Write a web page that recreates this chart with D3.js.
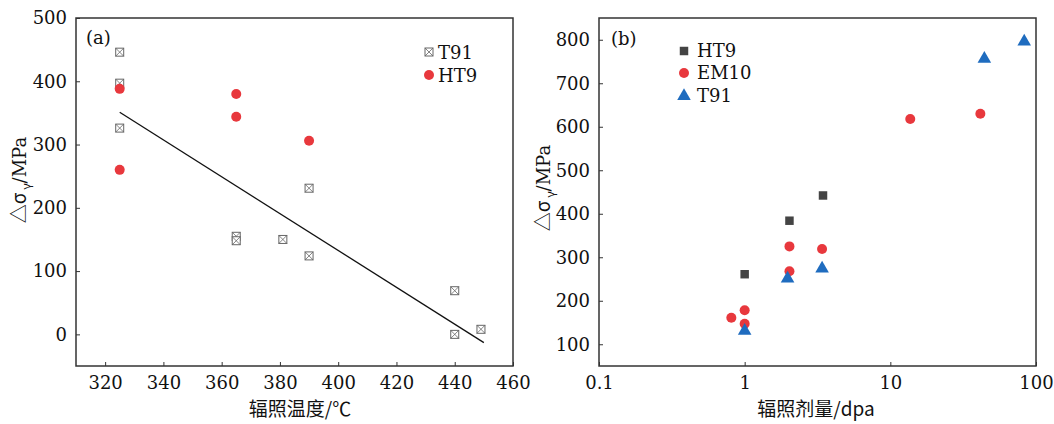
<!DOCTYPE html>
<html lang="zh">
<head>
<meta charset="UTF-8">
<title>辐照硬化</title>
<script src="https://d3js.org/d3.v7.min.js"></script>
<style>
    body { margin: 0; background: #fff; }
    svg { display: block; }
    .tick text { font-family: "DejaVu Serif", serif; font-size: 18px; fill: #111; }
    .domain, .tick line { stroke: #333; }
    .ttl { font-family: "Noto Sans CJK SC", sans-serif; font-size: 19px; fill: #111; }
    .lab { font-family: "DejaVu Serif", serif; font-size: 18px; fill: #111; }
</style>
</head>
<body>
<svg id="chart" width="1054" height="424"></svg>
<script>
// panel (a): yield strength increase vs irradiation temperature
const t91Temp = [325, 325, 325, 365, 365, 381, 390, 390, 440, 440, 449];
const t91Dsig = [446, 397, 326, 155, 148, 150, 231, 124, 69, 0, 8];
const ht9Temp = [325, 325, 365, 365, 390];
const ht9Dsig = [388, 260, 380, 344, 306];
const fitTemp = [325, 450];
const fitDsig = [351, -13];
const xTicksA = [320, 340, 360, 380, 400, 420, 440, 460];
const yTicksA = [0, 100, 200, 300, 400, 500];

// panel (b): yield strength increase vs dose
const ht9Dose = [1, 2.03, 3.45];
const ht9DsigB = [261, 384, 442];
const em10Dose = [0.81, 1, 1, 2.03, 2.03, 3.4, 13.7, 41.5];
const em10Dsig = [161, 178, 147, 325, 268, 319, 618, 630];
const t91Dose = [1, 1.97, 3.4, 44.2, 83];
const t91DsigB = [131, 251, 274, 756, 796];
const xTicksB = [0.1, 1, 10, 100];
const yTicksB = [100, 200, 300, 400, 500, 600, 700, 800];

const svg = d3.select("#chart");
const red = "#e8383d", gray = "#444", blue = "#1f6cbf";

function frame(g, x0, x1, y0, y1) {
    g.append("rect").attr("x", x0).attr("y", y0)
        .attr("width", x1 - x0).attr("height", y1 - y0)
        .attr("fill", "none").attr("stroke", "#333").attr("stroke-width", 1.5);
}

function crossSq(g, x, y) {
    const s = 4;
    g.append("rect").attr("x", x - s).attr("y", y - s).attr("width", 2 * s).attr("height", 2 * s)
        .attr("fill", "#fff").attr("stroke", "#666").attr("stroke-width", 1);
    g.append("path").attr("d", `M${x - s},${y - s}L${x + s},${y + s}M${x + s},${y - s}L${x - s},${y + s}`)
        .attr("stroke", "#666").attr("stroke-width", 0.8);
}

function yTitle(x, y) {
    const t = svg.append("text").attr("class", "ttl")
        .attr("transform", `translate(${x},${y}) rotate(-90)`)
        .attr("text-anchor", "middle");
    t.append("tspan").text("△σ");
    t.append("tspan").attr("font-size", 12).attr("dy", 5).text(" γ");
    t.append("tspan").attr("dy", -5).style("font-family", "'DejaVu Serif', serif").style("font-size", "18px").text("/MPa");
}

// ---------- panel (a)
const xa = d3.scaleLinear().domain([310, 460]).range([76, 513]);
const ya = d3.scaleLinear().domain([-50, 500]).range([366, 18]);
const ga = svg.append("g");

ga.append("g").attr("transform", "translate(0,366)")
    .call(d3.axisBottom(xa).tickValues(xTicksA).tickSizeInner(-4).tickSizeOuter(0).tickPadding(10))
    .call(g => g.select(".domain").remove());
ga.append("g").attr("transform", "translate(76,0)")
    .call(d3.axisLeft(ya).tickValues(yTicksA).tickSizeInner(-4).tickSizeOuter(0).tickPadding(9))
    .call(g => g.select(".domain").remove());
frame(ga, 76, 513, 18, 366);

ga.append("line")
    .attr("x1", xa(fitTemp[0])).attr("y1", ya(fitDsig[0]))
    .attr("x2", xa(fitTemp[1])).attr("y2", ya(fitDsig[1]))
    .attr("stroke", "#111").attr("stroke-width", 1.3);

t91Temp.forEach((t, i) => crossSq(ga, xa(t), ya(t91Dsig[i])));
ht9Temp.forEach((t, i) => {
    ga.append("circle").attr("cx", xa(t)).attr("cy", ya(ht9Dsig[i])).attr("r", 5).attr("fill", red);
});

ga.append("text").attr("class", "lab").attr("x", 86).attr("y", 44).text("(a)");
crossSq(ga, 429, 52);
ga.append("text").attr("class", "lab").attr("x", 438).attr("y", 59).text("T91");
ga.append("circle").attr("cx", 429).attr("cy", 75).attr("r", 5).attr("fill", red);
ga.append("text").attr("class", "lab").attr("x", 438).attr("y", 82).text("HT9");

svg.append("text").attr("class", "ttl").attr("x", 300).attr("y", 416)
    .attr("text-anchor", "middle").text("辐照温度/℃");
yTitle(26, 180);

// ---------- panel (b)
const xb = d3.scaleLog().domain([0.1, 100]).range([599, 1036]);
const yb = d3.scaleLinear().domain([50, 850]).range([366, 18]);
const gb = svg.append("g");

gb.append("g").attr("transform", "translate(0,366)")
    .call(d3.axisBottom(xb).tickValues(xTicksB).tickFormat(d => d3.format("~g")(d))
        .tickSizeInner(-4).tickSizeOuter(0).tickPadding(10))
    .call(g => g.select(".domain").remove());
gb.append("g").attr("transform", "translate(599,0)")
    .call(d3.axisLeft(yb).tickValues(yTicksB).tickSizeInner(-4).tickSizeOuter(0).tickPadding(9))
    .call(g => g.select(".domain").remove());
frame(gb, 599, 1036, 18, 366);

const sqr = d3.symbol().type(d3.symbolSquare).size(72);
const tri = d3.symbol().type(d3.symbolTriangle).size(80);

ht9Dose.forEach((d, i) => {
    gb.append("path").attr("d", sqr()).attr("fill", gray)
        .attr("transform", `translate(${xb(d)},${yb(ht9DsigB[i])})`);
});
em10Dose.forEach((d, i) => {
    gb.append("circle").attr("cx", xb(d)).attr("cy", yb(em10Dsig[i])).attr("r", 5).attr("fill", red);
});
t91Dose.forEach((d, i) => {
    gb.append("path").attr("d", tri()).attr("fill", blue)
        .attr("transform", `translate(${xb(d)},${yb(t91DsigB[i])})`);
});

gb.append("text").attr("class", "lab").attr("x", 611).attr("y", 45).text("(b)");
gb.append("path").attr("d", sqr()).attr("fill", gray).attr("transform", "translate(684,51)");
gb.append("text").attr("class", "lab").attr("x", 697).attr("y", 57).text("HT9");
gb.append("circle").attr("cx", 684).attr("cy", 73).attr("r", 5).attr("fill", red);
gb.append("text").attr("class", "lab").attr("x", 697).attr("y", 79).text("EM10");
gb.append("path").attr("d", tri()).attr("fill", blue).attr("transform", "translate(684,96)");
gb.append("text").attr("class", "lab").attr("x", 697).attr("y", 102).text("T91");

svg.append("text").attr("class", "ttl").attr("x", 816).attr("y", 416)
    .attr("text-anchor", "middle").text("辐照剂量/dpa");
yTitle(550, 188);
</script>
</body>
</html>
